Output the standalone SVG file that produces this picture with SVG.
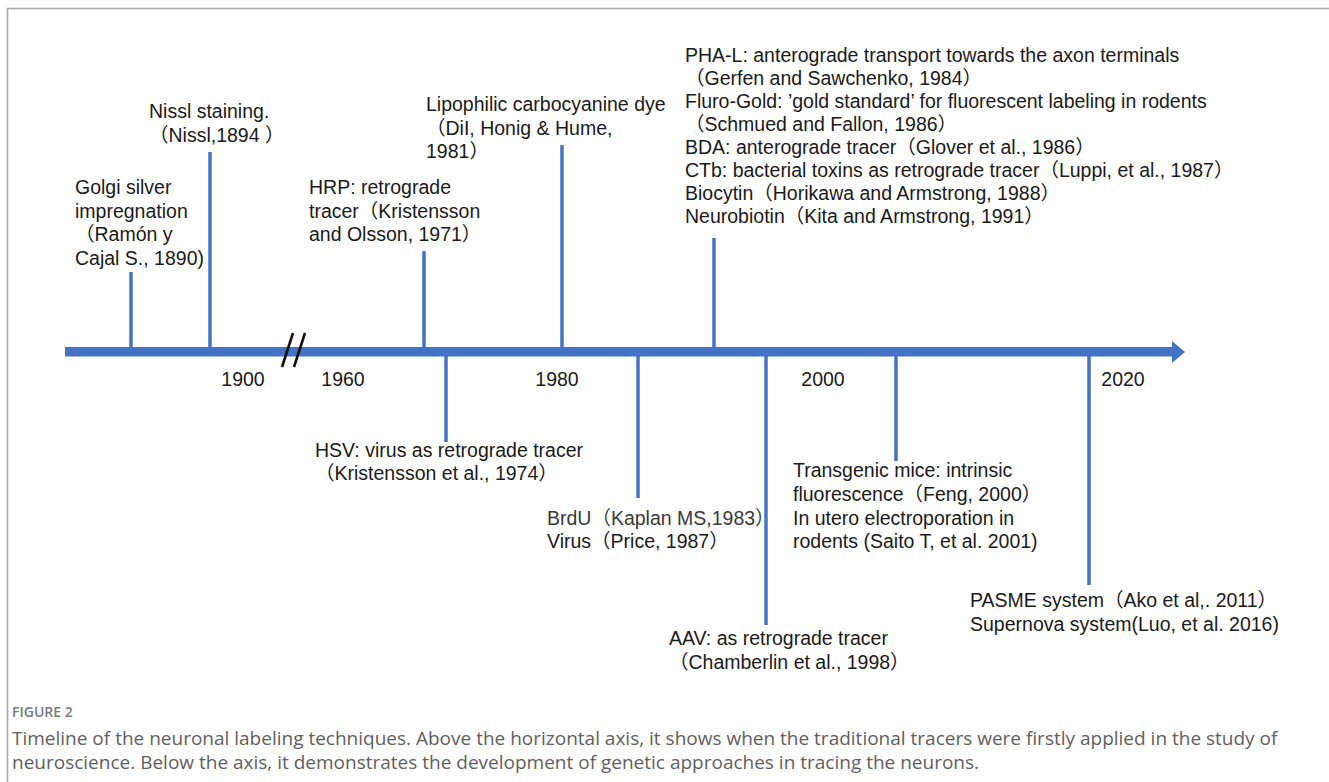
<svg xmlns="http://www.w3.org/2000/svg" width="1329" height="782" viewBox="0 0 1329 782">
<style>
.t{font-family:"Liberation Sans","Noto Sans CJK SC",Arial,sans-serif;font-size:19.5px;fill:#1a1a1a}
.g{fill:#3a3a3a}
.yr{font-family:"Liberation Sans",Arial,sans-serif;font-size:19.5px;fill:#1a1a1a;text-anchor:middle}
.tick{stroke:#4472C4;stroke-width:3.5;fill:none}
.cap{font-family:"Open Sans","Noto Sans",sans-serif;font-size:19px;fill:#606060}
.fig{font-family:"Open Sans","Noto Sans",sans-serif;font-size:14px;font-weight:600;fill:#7a7a7a}
</style>
<rect width="1329" height="782" fill="#fff"/>
<g id="frame" stroke="#a8a8a8" stroke-width="1.6" fill="none">
<line x1="7" y1="8.5" x2="1329" y2="8.5"/>
<line x1="7.5" y1="8" x2="7.5" y2="782"/>
</g>
<g id="axis">
<rect x="65" y="347" width="1110" height="9.5" fill="#4472C4"/>
<polygon points="1172,341 1185,352 1172,363" fill="#4472C4"/>
<g stroke="#111" stroke-width="2.6">
<line x1="293" y1="333" x2="282" y2="367"/>
<line x1="305" y1="333" x2="294" y2="367"/>
</g>
<text class="yr" x="243" y="386">1900</text>
<text class="yr" x="343" y="386">1960</text>
<text class="yr" x="557" y="386">1980</text>
<text class="yr" x="823" y="386">2000</text>
<text class="yr" x="1123" y="386">2020</text>
</g>
<g id="connectors">
<line class="tick" x1="131" y1="272" x2="131" y2="348"/>
<line class="tick" x1="210" y1="152" x2="210" y2="348"/>
<line class="tick" x1="424" y1="251" x2="424" y2="348"/>
<line class="tick" x1="562" y1="145" x2="562" y2="348"/>
<line class="tick" x1="714" y1="238" x2="714" y2="348"/>
<line class="tick" x1="446" y1="356" x2="446" y2="442"/>
<line class="tick" x1="638" y1="356" x2="638" y2="498"/>
<line class="tick" x1="766" y1="356" x2="766" y2="625"/>
<line class="tick" x1="896" y1="356" x2="896" y2="461"/>
<line class="tick" x1="1089" y1="356" x2="1089" y2="585"/>
</g>
<g id="golgi">
<text class="t" x="75" y="194">Golgi silver</text>
<text class="t" x="75" y="217.5">impregnation</text>
<text class="t" x="75" y="241">（Ramón y</text>
<text class="t" x="75" y="265">Cajal S., 1890)</text>
</g>
<g id="nissl">
<text class="t" x="149" y="118">Nissl staining.</text>
<text class="t" x="149" y="142">（Nissl,1894 ）</text>
</g>
<g id="hrp">
<text class="t" x="309" y="194">HRP: retrograde</text>
<text class="t" x="309" y="217.5">tracer（Kristensson</text>
<text class="t" x="309" y="241">and Olsson, 1971）</text>
</g>
<g id="dil">
<text class="t" x="426" y="111">Lipophilic carbocyanine dye</text>
<text class="t" x="426" y="135">（DiI, Honig &amp; Hume,</text>
<text class="t" x="426" y="158">1981）</text>
</g>
<g id="tracers">
<text class="t" x="685" y="62">PHA-L: anterograde transport towards the axon terminals</text>
<text class="t" x="685" y="85">（Gerfen and Sawchenko, 1984）</text>
<text class="t" x="685" y="108">Fluro-Gold: ’gold standard’ for fluorescent labeling in rodents</text>
<text class="t" x="685" y="131">（Schmued and Fallon, 1986）</text>
<text class="t" x="685" y="154">BDA: anterograde tracer（Glover et al., 1986）</text>
<text class="t" x="685" y="177">CTb: bacterial toxins as retrograde tracer（Luppi, et al., 1987）</text>
<text class="t" x="685" y="200">Biocytin（Horikawa and Armstrong, 1988）</text>
<text class="t" x="685" y="223">Neurobiotin（Kita and Armstrong, 1991）</text>
</g>
<g id="hsv">
<text class="t" x="315" y="457">HSV: virus as retrograde tracer</text>
<text class="t" x="315" y="480">（Kristensson et al., 1974）</text>
</g>
<g id="brdu">
<text class="t g" x="547" y="525">BrdU（Kaplan MS,1983）</text>
<text class="t" x="547" y="548">Virus（Price, 1987）</text>
</g>
<g id="aav">
<text class="t" x="669" y="645">AAV: as retrograde tracer</text>
<text class="t" x="669" y="669">（Chamberlin et al., 1998）</text>
</g>
<g id="transgenic">
<text class="t" x="793" y="477">Transgenic mice: intrinsic</text>
<text class="t" x="793" y="501">fluorescence（Feng, 2000）</text>
<text class="t" x="793" y="525">In utero electroporation in</text>
<text class="t" x="793" y="548">rodents (Saito T, et al. 2001)</text>
</g>
<g id="pasme">
<text class="t" x="970" y="607">PASME system（Ako et al,. 2011）</text>
<text class="t" x="970" y="631">Supernova system(Luo, et al. 2016)</text>
</g>
<g id="caption">
<text class="fig" x="12" y="717">FIGURE 2</text>
<text class="cap" x="12" y="745">Timeline of the neuronal labeling techniques. Above the horizontal axis, it shows when the traditional tracers were firstly applied in the study of</text>
<text class="cap" x="12" y="769">neuroscience. Below the axis, it demonstrates the development of genetic approaches in tracing the neurons.</text>
</g>
</svg>
